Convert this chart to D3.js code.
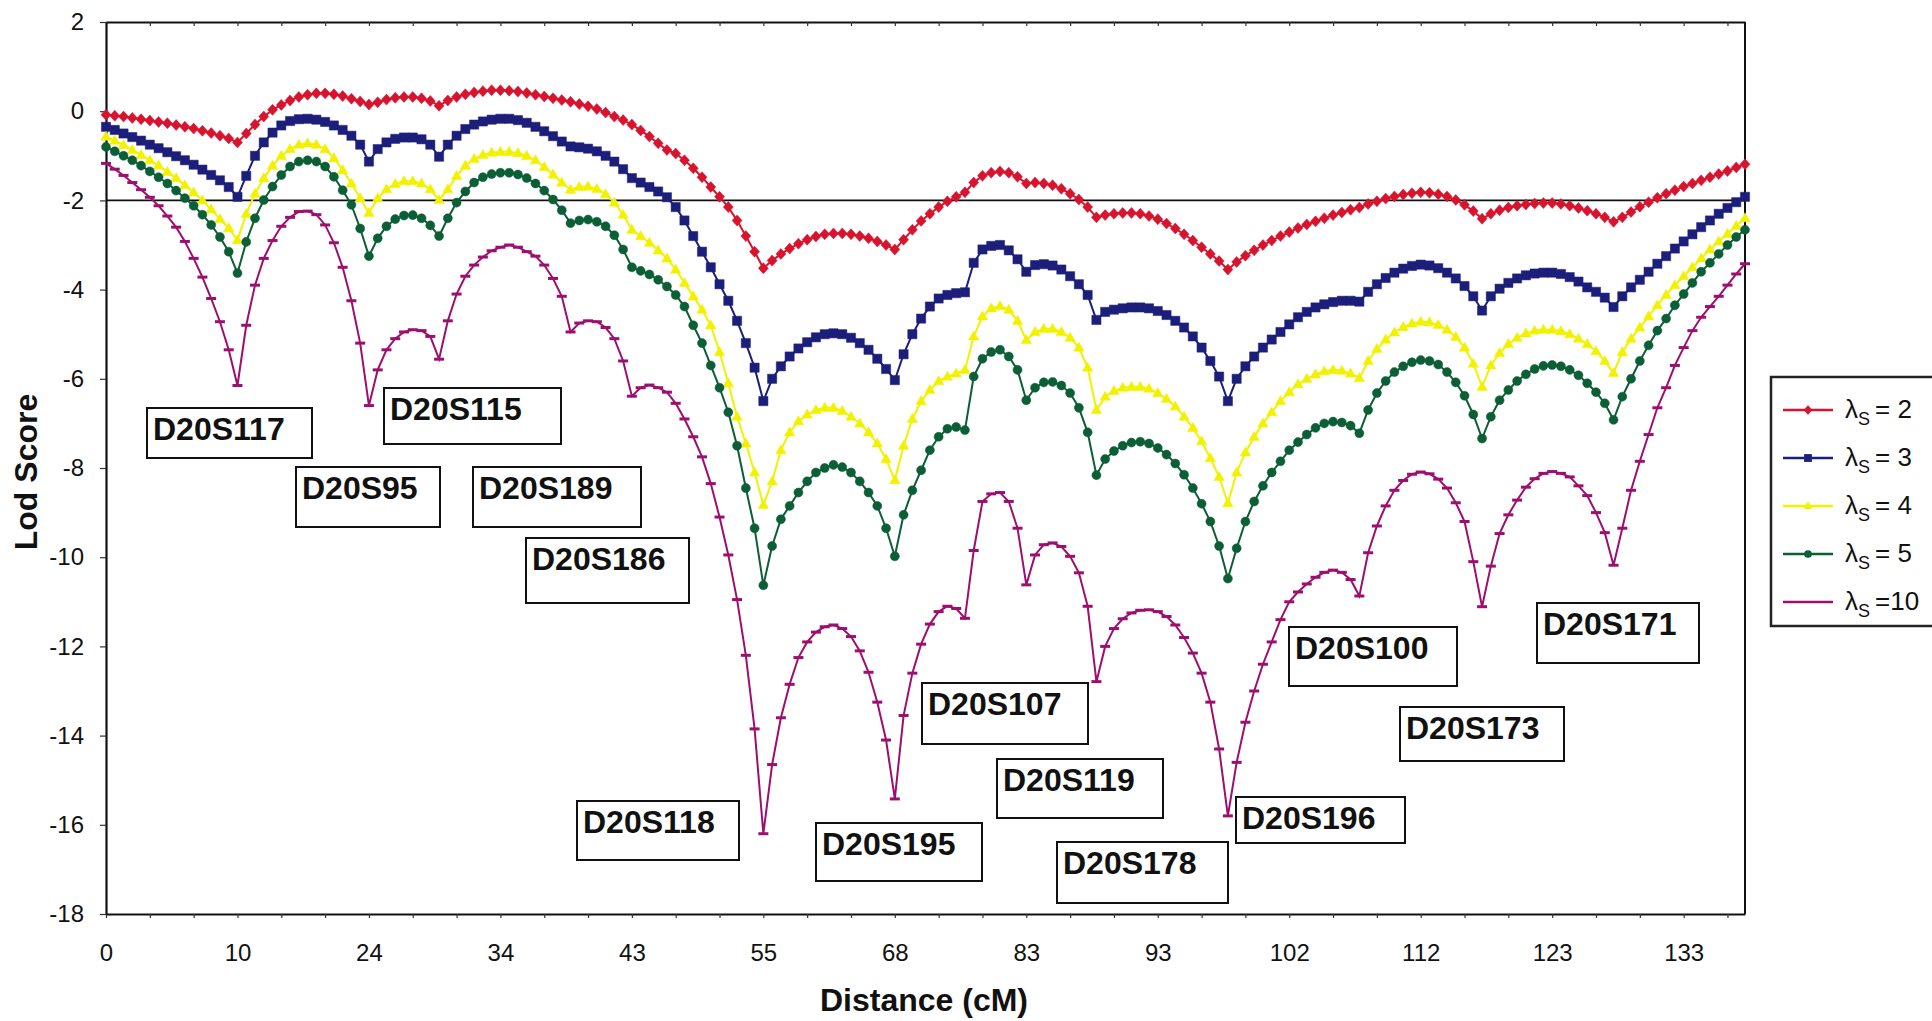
<!DOCTYPE html>
<html>
<head>
<meta charset="utf-8">
<script src="https://cdn.jsdelivr.net/npm/d3@7"></script>
<style>
  body { margin: 0; background: #fff; }
  text { font-family: "Liberation Sans", Arial, sans-serif; fill: #111; }
</style>
</head>
<body>
<svg id="chart" width="1932" height="1021"></svg>
<script>
// distance labels, one every 15 points of the scan
const distLabels = ["0", "10", "24", "34", "43", "55", "68", "83", "93", "102", "112", "123", "133"];
const labelEvery = 15;
const tickEvery = 5;

// Lod scores, one value per scan point
const lodLs2 = [
  -0.08, -0.1, -0.12, -0.15, -0.18, -0.21, -0.24, -0.27, -0.31, -0.35, -0.39, -0.44, -0.49, -0.55, -0.61, -0.7,
  -0.5, -0.3, -0.12, 0.03, 0.14, 0.24, 0.32, 0.37, 0.4, 0.4, 0.38, 0.34, 0.28, 0.22, 0.15,
  0.2, 0.26, 0.3, 0.32, 0.32, 0.29, 0.23, 0.12,
  0.24, 0.32, 0.38, 0.42, 0.45, 0.47, 0.47, 0.46, 0.44, 0.41, 0.37, 0.33, 0.29, 0.25, 0.21,
  0.16, 0.11, 0.05, -0.03, -0.12, -0.2, -0.3,
  -0.43, -0.57, -0.72, -0.87, -0.95, -1.1, -1.28, -1.48, -1.7, -1.92, -2.15, -2.45, -2.8, -3.15, -3.52,
  -3.35, -3.2, -3.08, -2.97, -2.88, -2.81, -2.76, -2.74, -2.74, -2.76, -2.8, -2.85, -2.92, -3.0, -3.1,
  -2.88, -2.66, -2.46, -2.3, -2.15, -2.02, -1.92, -1.82,
  -1.6, -1.45, -1.38, -1.35, -1.38, -1.47, -1.62,
  -1.6, -1.62, -1.66, -1.74, -1.85, -1.98, -2.15, -2.38,
  -2.33, -2.3, -2.28, -2.28, -2.3, -2.35, -2.42, -2.52, -2.63, -2.76, -2.9, -3.05, -3.2, -3.36, -3.55,
  -3.38, -3.24, -3.12, -3.0, -2.9, -2.8, -2.71, -2.62, -2.54, -2.47, -2.4, -2.33, -2.27, -2.21, -2.16,
  -2.08, -2.02, -1.96, -1.91, -1.87, -1.84, -1.82, -1.83, -1.86, -1.91, -1.99, -2.1, -2.24, -2.41,
  -2.3, -2.22, -2.16, -2.12, -2.09, -2.07, -2.06, -2.06, -2.08, -2.12, -2.17, -2.23, -2.3, -2.38, -2.48,
  -2.38, -2.26, -2.14, -2.04, -1.94, -1.85, -1.77, -1.69, -1.62, -1.55, -1.48, -1.41, -1.34, -1.26, -1.19
];

const lodLs3 = [
  -0.35, -0.42, -0.5, -0.58, -0.66, -0.75, -0.83, -0.92, -1.01, -1.1, -1.2, -1.31, -1.43, -1.55, -1.7, -1.92,
  -1.45, -1.0, -0.7, -0.48, -0.32, -0.22, -0.18, -0.17, -0.19, -0.24, -0.32, -0.42, -0.55, -0.75, -1.13,
  -0.85, -0.7, -0.62, -0.59, -0.59, -0.63, -0.75, -1.02,
  -0.75, -0.55, -0.4, -0.3, -0.23, -0.19, -0.17, -0.17, -0.2, -0.26, -0.35, -0.45, -0.56, -0.68, -0.79,
  -0.81, -0.84, -0.9, -1.0, -1.13, -1.3, -1.5,
  -1.6, -1.7, -1.8, -1.93, -2.15, -2.45, -2.8, -3.15, -3.5, -3.88, -4.25, -4.7, -5.2, -5.75, -6.5,
  -6.0, -5.72, -5.5, -5.32, -5.18, -5.07, -5.0, -4.98, -5.0, -5.08, -5.2, -5.35, -5.55, -5.78, -6.03,
  -5.45, -5.0, -4.65, -4.38, -4.2, -4.12, -4.08, -4.06,
  -3.4, -3.1, -3.02, -3.0, -3.12, -3.32, -3.6,
  -3.45, -3.43, -3.46, -3.55, -3.7, -3.88, -4.12, -4.68,
  -4.5, -4.45, -4.42, -4.4, -4.4, -4.42, -4.48, -4.57, -4.7, -4.85, -5.05, -5.3, -5.6, -5.95, -6.5,
  -6.0, -5.72, -5.5, -5.3, -5.12, -4.95, -4.78, -4.62, -4.5, -4.4, -4.33, -4.28, -4.25, -4.25, -4.27,
  -4.05, -3.88, -3.74, -3.62, -3.53, -3.47, -3.44, -3.46, -3.52, -3.62, -3.75, -3.92, -4.15, -4.47,
  -4.15, -3.98, -3.85, -3.75, -3.68, -3.64, -3.62, -3.62, -3.65, -3.72, -3.82, -3.95, -4.05, -4.18, -4.39,
  -4.15, -3.95, -3.78, -3.6, -3.42, -3.25, -3.08, -2.92, -2.76, -2.6, -2.45, -2.3, -2.17, -2.04, -1.92
];

const lodLs4 = [
  -0.57, -0.66, -0.76, -0.87, -0.98, -1.1, -1.22, -1.36, -1.5, -1.66, -1.82, -2.0, -2.2, -2.42, -2.62, -2.89,
  -2.3, -1.85, -1.5, -1.22, -1.0, -0.85, -0.75, -0.72, -0.75, -0.85, -1.05, -1.32, -1.62, -1.95, -2.28,
  -1.95, -1.75, -1.63, -1.57, -1.57, -1.62, -1.75, -1.99,
  -1.75, -1.45, -1.22, -1.07, -0.98, -0.93, -0.91, -0.91, -0.94, -1.0, -1.1, -1.25, -1.42, -1.6, -1.76,
  -1.7, -1.69, -1.74, -1.86, -2.05, -2.32, -2.66,
  -2.8, -2.95, -3.12, -3.3, -3.55, -3.85, -4.15, -4.45, -4.8, -5.4, -6.1, -6.85, -7.45, -8.1, -8.83,
  -8.3, -7.6, -7.2, -6.95, -6.8, -6.7, -6.65, -6.65, -6.72, -6.85, -7.0, -7.2, -7.45, -7.8, -8.27,
  -7.5, -6.9, -6.5, -6.25, -6.05, -5.95, -5.88, -5.8,
  -5.05, -4.6, -4.42, -4.37, -4.45, -4.7, -5.13,
  -4.95, -4.88, -4.88, -4.95, -5.08, -5.3, -5.75, -6.7,
  -6.4, -6.27, -6.2, -6.18, -6.18, -6.22, -6.32, -6.45, -6.62, -6.85, -7.1, -7.4, -7.78, -8.2, -8.79,
  -8.1, -7.65, -7.3, -7.0, -6.75, -6.5, -6.3, -6.12, -6.0, -5.9, -5.83, -5.8, -5.82, -5.88, -5.98,
  -5.6, -5.33, -5.12, -4.96, -4.84, -4.76, -4.72, -4.73, -4.79, -4.9, -5.06, -5.3, -5.66, -6.18,
  -5.7, -5.42, -5.22, -5.08, -4.98, -4.92, -4.9, -4.9, -4.93, -5.0, -5.1, -5.22, -5.38, -5.6, -5.87,
  -5.4, -5.1, -4.85, -4.6, -4.35, -4.12, -3.9, -3.7, -3.5, -3.3, -3.1, -2.92, -2.75, -2.57, -2.4
];

const lodLs5 = [
  -0.8, -0.9, -1.0, -1.1, -1.22, -1.35, -1.48, -1.62, -1.78, -1.95, -2.12, -2.32, -2.55, -2.82, -3.15, -3.63,
  -2.93, -2.4, -1.99, -1.69, -1.43, -1.24, -1.13, -1.1, -1.13, -1.24, -1.47, -1.77, -2.1, -2.63, -3.25,
  -2.85, -2.58, -2.42, -2.34, -2.33, -2.4, -2.56, -2.8,
  -2.4, -2.05, -1.8, -1.6, -1.48, -1.41, -1.38, -1.38, -1.42, -1.5, -1.62, -1.78, -1.98, -2.22, -2.51,
  -2.45, -2.43, -2.48, -2.58, -2.78, -3.1, -3.5,
  -3.58, -3.66, -3.78, -3.93, -4.12, -4.38, -4.8, -5.2, -5.7, -6.2, -6.75, -7.5, -8.45, -9.35, -10.63,
  -9.75, -9.15, -8.85, -8.55, -8.3, -8.1, -8.0, -7.93, -7.98, -8.1, -8.3, -8.55, -8.85, -9.35, -9.98,
  -9.05, -8.5, -8.05, -7.6, -7.3, -7.12, -7.08, -7.15,
  -5.95, -5.55, -5.4, -5.35, -5.5, -5.8, -6.48,
  -6.2, -6.08, -6.07, -6.15, -6.32, -6.65, -7.2, -8.16,
  -7.8, -7.62, -7.5, -7.43, -7.41, -7.45, -7.55, -7.7, -7.9, -8.15, -8.45, -8.8, -9.2, -9.75, -10.48,
  -9.8, -9.2, -8.75, -8.4, -8.1, -7.85, -7.6, -7.42, -7.25, -7.1, -7.0, -6.96, -6.98, -7.05, -7.22,
  -6.7, -6.32, -6.05, -5.85, -5.72, -5.63, -5.58, -5.6, -5.68, -5.85, -6.08, -6.38, -6.8, -7.34,
  -6.85, -6.48, -6.25, -6.05, -5.9, -5.78, -5.71, -5.69, -5.72, -5.8, -5.92, -6.1, -6.3, -6.55, -6.92,
  -6.4, -6.0, -5.6, -5.25, -4.92, -4.65, -4.35, -4.1, -3.85, -3.6, -3.4, -3.2, -3.0, -2.82, -2.66
];

const lodLs10 = [
  -1.17, -1.3, -1.44, -1.6, -1.76, -1.93, -2.12, -2.35, -2.6, -2.92, -3.3, -3.72, -4.2, -4.72, -5.35, -6.15,
  -4.8, -3.9, -3.3, -2.9, -2.58, -2.38, -2.25, -2.24, -2.32, -2.55, -2.95, -3.5, -4.25, -5.2, -6.6,
  -5.8, -5.35, -5.1, -4.95, -4.9, -4.92, -5.05, -5.56,
  -4.7, -4.1, -3.7, -3.45, -3.27, -3.13, -3.05, -3.0, -3.05, -3.15, -3.25, -3.45, -3.75, -4.15, -4.95,
  -4.75, -4.7, -4.72, -4.85, -5.1, -5.6, -6.39,
  -6.2, -6.14, -6.2, -6.3, -6.55, -6.9, -7.3, -7.75, -8.35, -9.1, -9.95, -10.95, -12.2, -13.85, -16.2,
  -14.65, -13.6, -12.85, -12.25, -11.9, -11.68, -11.56, -11.52, -11.6, -11.78, -12.1, -12.58, -13.25, -14.1, -15.42,
  -13.55, -12.6, -11.95, -11.5, -11.22, -11.1, -11.15, -11.37,
  -9.85, -8.75, -8.58, -8.55, -8.75, -9.35, -10.62,
  -9.95, -9.72, -9.68, -9.76, -9.98, -10.35, -11.1, -12.79,
  -12.0, -11.6, -11.38, -11.25, -11.19, -11.18, -11.22, -11.33, -11.52, -11.8, -12.15, -12.6, -13.25, -14.3, -15.8,
  -14.6, -13.7, -13.0, -12.4, -11.9, -11.4, -11.0, -10.78, -10.6, -10.45, -10.34, -10.29, -10.34, -10.5, -10.87,
  -9.9, -9.3, -8.85, -8.5, -8.28, -8.14, -8.09, -8.13, -8.25, -8.45, -8.78, -9.2, -10.1, -11.11,
  -10.2, -9.47, -9.05, -8.72, -8.43, -8.24, -8.12, -8.08, -8.12, -8.2, -8.4, -8.62, -9.0, -9.45, -10.18,
  -9.35, -8.5, -7.85, -7.25, -6.65, -6.2, -5.7, -5.3, -4.92, -4.62, -4.38, -4.15, -3.9, -3.65, -3.42
];

const lambdaValues = ["2", "3", "4", "5", "10"];
const yTicks = [2, 0, -2, -4, -6, -8, -10, -12, -14, -16, -18];
const thresholdLod = -2;

// marker names written in the boxes
const markerNames = ["D20S117", "D20S115", "D20S95", "D20S189", "D20S186", "D20S118", "D20S195",
  "D20S107", "D20S119", "D20S178", "D20S196", "D20S100", "D20S173", "D20S171"];

// ---- layout ----
const margin = {left: 106, right: 1745, top: 22, bottom: 914};

// box positions for the marker names (pixels)
const boxLayout = [
  [147, 408, 165, 50], [384, 388, 177, 56], [296, 467, 144, 60], [473, 467, 168, 60],
  [526, 538, 163, 65], [577, 801, 162, 59], [816, 823, 166, 58], [922, 683, 166, 61],
  [997, 759, 166, 59], [1057, 842, 171, 61], [1236, 797, 169, 46], [1289, 627, 168, 59],
  [1400, 707, 164, 54], [1537, 603, 162, 60]
];

const styles = [
  {color: "#d7132e", marker: "diamond"},
  {color: "#1c1f7a", marker: "square"},
  {color: "#f2f200", marker: "triangle"},
  {color: "#0b5e35", marker: "circle"},
  {color: "#9c0f6f", marker: "dash"}
];

const series = [lodLs2, lodLs3, lodLs4, lodLs5, lodLs10].map((values, k) => ({
  name: lambdaValues[k], values, ...styles[k]
}));

function markerPath(type) {
  if (type === "diamond") return "M0,-5.5L5,0L0,5.5L-5,0Z";
  if (type === "square") return "M-4.6,-4.6h9.2v9.2h-9.2Z";
  if (type === "triangle") return "M0,-5.5L5.2,3.6L-5.2,3.6Z";
  if (type === "circle") return d3.symbol(d3.symbolCircle, 64)();
  return "M-5,0H5";
}

const svg = d3.select("#chart");

const x = d3.scalePoint()
  .domain(d3.range(lodLs2.length))
  .range([margin.left, margin.right]);

const y = d3.scaleLinear()
  .domain([-18, 2])
  .range([margin.bottom, margin.top]);

// axes
const xAxis = d3.axisBottom(x)
  .tickValues(d3.range(0, lodLs2.length, tickEvery))
  .tickFormat(i => i % labelEvery === 0 ? distLabels[i / labelEvery] : "")
  .tickSize(4)
  .tickSizeOuter(0)
  .tickPadding(26);

svg.append("g")
  .attr("transform", `translate(0,${margin.bottom})`)
  .call(xAxis);

svg.append("g")
  .attr("transform", `translate(0,${margin.top})`)
  .call(d3.axisTop(x).tickValues(d3.range(0, lodLs2.length, tickEvery)).tickFormat("").tickSize(-4).tickSizeOuter(0));

svg.append("g")
  .attr("transform", `translate(${margin.left},0)`)
  .call(d3.axisLeft(y).tickValues(yTicks).tickFormat(d => String(d)).tickSize(6).tickSizeOuter(0).tickPadding(16));

svg.selectAll(".domain").attr("stroke", "#111").attr("stroke-width", 2.2);
svg.selectAll(".tick line").attr("stroke", "#333").attr("stroke-width", 1.2);
svg.selectAll(".tick text")
  .attr("font-size", 24)
  .attr("font-family", "'Liberation Sans', Arial, sans-serif")
  .attr("fill", "#111");

// right border of the plot
svg.append("line")
  .attr("x1", margin.right).attr("x2", margin.right)
  .attr("y1", margin.top).attr("y2", margin.bottom)
  .attr("stroke", "#111").attr("stroke-width", 2);

// threshold line at lod -2
svg.append("line")
  .attr("x1", margin.left).attr("x2", margin.right)
  .attr("y1", y(thresholdLod)).attr("y2", y(thresholdLod))
  .attr("stroke", "#111").attr("stroke-width", 1.6);

// series
const line = d3.line()
  .x((d, i) => x(i))
  .y(d => y(d));

series.forEach(s => {
  const g = svg.append("g");
  g.append("path")
    .datum(s.values)
    .attr("fill", "none")
    .attr("stroke", s.color)
    .attr("stroke-width", 2)
    .attr("d", line);

  g.selectAll("path.m")
    .data(s.values)
    .join("path")
    .attr("class", "m")
    .attr("transform", (d, i) => `translate(${x(i)},${y(d)})`)
    .attr("d", markerPath(s.marker))
    .attr("fill", s.marker === "dash" ? "none" : s.color)
    .attr("stroke", s.color)
    .attr("stroke-width", s.marker === "dash" ? 3 : 0.5);
});

// marker name boxes
boxLayout.forEach(([bx, by, bw, bh], k) => {
  svg.append("rect")
    .attr("x", bx).attr("y", by).attr("width", bw).attr("height", bh)
    .attr("fill", "#fff").attr("stroke", "#111").attr("stroke-width", 2);
  svg.append("text")
    .attr("x", bx + 6).attr("y", by + 32)
    .attr("font-size", 32).attr("font-weight", "bold")
    .text(markerNames[k]);
});

// axis titles
svg.append("text")
  .attr("x", 924).attr("y", 1011)
  .attr("text-anchor", "middle")
  .attr("font-size", 32).attr("font-weight", "bold")
  .text("Distance (cM)");

svg.append("text")
  .attr("transform", "translate(37,472) rotate(-90)")
  .attr("text-anchor", "middle")
  .attr("font-size", 32).attr("font-weight", "bold")
  .text("Lod Score");

// legend
const legend = svg.append("g");
legend.append("rect")
  .attr("x", 1771).attr("y", 377).attr("width", 200).attr("height", 249)
  .attr("fill", "#fff").attr("stroke", "#222").attr("stroke-width", 2.5);

series.forEach((s, k) => {
  const ly = 410 + k * 48;
  legend.append("line")
    .attr("x1", 1783).attr("x2", 1833).attr("y1", ly).attr("y2", ly)
    .attr("stroke", s.color).attr("stroke-width", 2.5);
  if (s.marker !== "dash") {
    legend.append("path")
      .attr("transform", `translate(1808,${ly}) scale(0.85)`)
      .attr("d", markerPath(s.marker))
      .attr("fill", s.color);
  }
  const t = legend.append("text")
    .attr("x", 1845).attr("y", ly + 8)
    .attr("font-size", 26);
  t.append("tspan").text("λ");
  t.append("tspan").attr("font-size", 18).attr("dy", 7).text("S");
  t.append("tspan").attr("dy", -7).attr("x", 1875)
    .text(s.name === "10" ? "=10" : "= " + s.name);
});
</script>
</body>
</html>
